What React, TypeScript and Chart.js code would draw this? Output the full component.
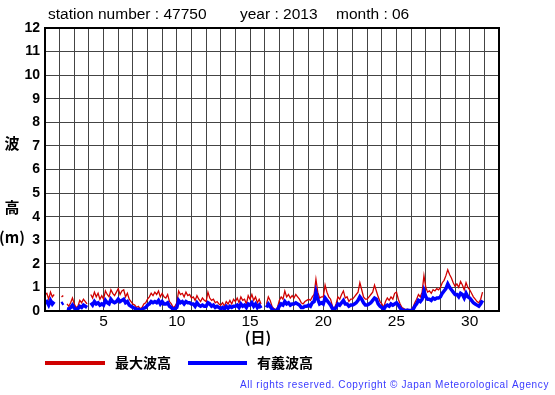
import React, { useEffect, useRef } from "react";
import { Chart, registerables } from "chart.js";

Chart.register(...registerables);

// 3-hourly readings, 8 per day, June 1-30 (null = missing)
const maxWave: (number | null)[] = [
  0.7, 0.75, 0.5, 0.8, 0.6, 0.7, null, null,
  null, 0.6, 0.65, null, 0.3, 0.2, 0.35, 0.55,
  0.3, 0.15, 0.2, 0.45, 0.35, 0.5, 0.4, 0.3,
  null, 0.7, 0.55, 0.8, 0.6, 0.75, 0.5, 0.65,
  0.5, 0.85, 0.7, 0.6, 0.9, 0.75, 0.65, 0.8,
  0.95, 0.7, 0.85, 0.9, 0.6, 0.75, 0.5, 0.4,
  0.3, 0.25, 0.15, 0.2, 0.1, 0.15, 0.3, 0.35,
  0.5, 0.6, 0.75, 0.65, 0.8, 0.7, 0.85, 0.6,
  0.75, 0.6, 0.55, 0.7, 0.4, 0.3, 0.15, 0.2,
  0.35, 0.85, 0.7, 0.75, 0.6, 0.8, 0.65, 0.7,
  0.55, 0.6, 0.45, 0.65, 0.5, 0.4, 0.55, 0.45,
  0.4, 0.8, 0.55, 0.45, 0.5, 0.35, 0.4, 0.3,
  0.25, 0.35, 0.2, 0.4, 0.3, 0.45, 0.3, 0.5,
  0.4, 0.55, 0.35, 0.6, 0.45, 0.5, 0.3, 0.65,
  0.5, 0.7, 0.45, 0.6, 0.35, 0.5, 0.3, null,
  null, 0.3, 0.6, 0.45, 0.2, 0.1, 0.05, 0.15,
  0.45, 0.6, 0.5, 0.85, 0.6, 0.7, 0.55, 0.65,
  0.55, 0.7, 0.6, 0.5, 0.35, 0.3, 0.4, 0.45,
  0.5, 0.45, 0.6, 0.7, 1.35, 0.8, 0.55, 0.6,
  0.6, 1.1, 0.8, 0.6, 0.5, 0.2, 0.1, 0.3,
  0.6, 0.5, 0.7, 0.85, 0.55, 0.6, 0.4, 0.5,
  0.5, 0.6, 0.7, 0.8, 1.2, 0.9, 0.6, 0.5,
  0.5, 0.6, 0.7, 0.8, 1.1, 0.85, 0.6, 0.4,
  0.3, 0.15, 0.4, 0.55, 0.45, 0.6, 0.5, 0.75,
  0.8, 0.5, 0.3, 0.15, 0.1, 0.05, 0.08, 0.05,
  0.05, 0.15, 0.35, 0.5, 0.7, 0.6, 0.8, 1.5,
  1.0, 0.8, 0.85, 0.75, 0.9, 0.85, 0.95, 0.9,
  1.0, 1.2, 1.3, 1.5, 1.75, 1.55, 1.4, 1.2,
  1.05, 1.15, 1.0, 1.25, 1.1, 0.9, 1.2, 1.0,
  0.9, 0.75, 0.6, 0.5, 0.4, 0.35, 0.5, 0.8,
];

const sigWave: (number | null)[] = [
  0.35, 0.4, 0.25, 0.45, 0.3, 0.4, null, null,
  null, 0.3, 0.35, null, 0.1, 0.08, 0.15, 0.25,
  0.12, 0.05, 0.1, 0.2, 0.15, 0.25, 0.2, 0.15,
  null, 0.35, 0.25, 0.4, 0.3, 0.35, 0.25, 0.3,
  0.25, 0.45, 0.35, 0.3, 0.5, 0.4, 0.35, 0.4,
  0.5, 0.4, 0.45, 0.5, 0.35, 0.4, 0.25, 0.2,
  0.15, 0.12, 0.06, 0.08, 0.03, 0.06, 0.12, 0.15,
  0.25, 0.3, 0.4, 0.35, 0.4, 0.35, 0.45, 0.3,
  0.4, 0.3, 0.3, 0.35, 0.2, 0.15, 0.06, 0.1,
  0.15, 0.45, 0.35, 0.4, 0.3, 0.4, 0.35, 0.35,
  0.3, 0.3, 0.2, 0.35, 0.25, 0.2, 0.25, 0.2,
  0.2, 0.35, 0.3, 0.2, 0.25, 0.15, 0.2, 0.15,
  0.1, 0.15, 0.08, 0.2, 0.12, 0.2, 0.15, 0.2,
  0.2, 0.25, 0.15, 0.3, 0.2, 0.25, 0.15, 0.3,
  0.25, 0.35, 0.2, 0.3, 0.15, 0.25, 0.12, null,
  null, 0.15, 0.3, 0.2, 0.08, 0.03, 0.02, 0.05,
  0.2, 0.3, 0.25, 0.4, 0.3, 0.35, 0.25, 0.3,
  0.3, 0.35, 0.3, 0.25, 0.15, 0.15, 0.2, 0.2,
  0.25, 0.2, 0.35, 0.4, 0.8, 0.5, 0.3, 0.35,
  0.3, 0.55, 0.45, 0.35, 0.25, 0.1, 0.04, 0.15,
  0.3, 0.25, 0.35, 0.45, 0.3, 0.3, 0.2, 0.25,
  0.25, 0.3, 0.35, 0.45, 0.6, 0.5, 0.35, 0.25,
  0.25, 0.3, 0.35, 0.45, 0.55, 0.5, 0.3, 0.2,
  0.15, 0.06, 0.2, 0.25, 0.2, 0.3, 0.25, 0.3,
  0.35, 0.25, 0.12, 0.05, 0.03, 0.02, 0.03, 0.02,
  0.02, 0.06, 0.2, 0.3, 0.45, 0.4, 0.5, 0.85,
  0.6, 0.5, 0.5, 0.45, 0.55, 0.5, 0.55, 0.55,
  0.6, 0.75, 0.85, 0.95, 1.15, 1.0, 0.9, 0.8,
  0.7, 0.7, 0.6, 0.75, 0.7, 0.55, 0.75, 0.6,
  0.55, 0.45, 0.35, 0.3, 0.25, 0.2, 0.3, 0.45,
];

const readingsPerDay = 8;
const firstDay = 1;
const xMin = 1;
const xMax = 32;
const yMax = 12;
const titleParts = ["station number : 47750", "year : 2013", "month : 06"];
const legendLabels = ["最大波高", "有義波高"];
const yTitleChars = ["波", "高", "(m)"];
const xTitle = "(日)";
const copyright = "All rights reserved. Copyright © Japan Meteorological Agency";

const toPoints = (arr: (number | null)[]) =>
  arr.map((v, i) => ({ x: firstDay + i / readingsPerDay, y: v }));

const LATIN = '"Liberation Sans", Arial, sans-serif';
const CJK = '"Noto Sans CJK JP", sans-serif';

const decor = {
  id: "decor",
  afterDraw(chart: any) {
    const ctx = chart.ctx;
    const a = chart.chartArea;
    ctx.save();
    // frame
    ctx.strokeStyle = "#000";
    ctx.lineWidth = 2;
    ctx.strokeRect(a.left, a.top, a.right - a.left, a.bottom - a.top);

    ctx.fillStyle = "#000";
    ctx.textBaseline = "middle";
    ctx.textAlign = "left";
    ctx.font = `15.5px ${LATIN}`;
    ctx.fillText(titleParts[0], 48, 15);
    ctx.fillText(titleParts[1], 240, 15);
    ctx.fillText(titleParts[2], 336, 15);

    ctx.textAlign = "center";
    ctx.font = `bold 15px ${CJK}`;
    ctx.fillText(yTitleChars[0], 12, 143);
    ctx.fillText(yTitleChars[1], 12, 207);
    ctx.fillText(yTitleChars[2], 12, 237);
    ctx.fillText(xTitle, 258, 337);

    // legend
    ctx.lineWidth = 4;
    ctx.strokeStyle = "#d00000";
    ctx.beginPath();
    ctx.moveTo(45, 363);
    ctx.lineTo(105, 363);
    ctx.stroke();
    ctx.strokeStyle = "#0000ff";
    ctx.beginPath();
    ctx.moveTo(188, 363);
    ctx.lineTo(247, 363);
    ctx.stroke();
    ctx.textAlign = "left";
    ctx.font = `bold 14px ${CJK}`;
    ctx.fillText(legendLabels[0], 115, 363);
    ctx.fillText(legendLabels[1], 257, 363);

    // copyright
    ctx.font = `10px ${LATIN}`;
    ctx.fillStyle = "#3a3aff";
    const natural = ctx.measureText(copyright).width;
    const target = 309;
    const ls = (target - natural) / copyright.length;
    (ctx as any).letterSpacing = `${ls}px`;
    ctx.fillText(copyright, 240, 385);
    ctx.restore();
  },
};

export default function App() {
  const ref = useRef<HTMLCanvasElement>(null);
  useEffect(() => {
    document.body.style.margin = "0";
    const chart = new Chart(ref.current!, {
      type: "line",
      data: {
        datasets: [
          {
            label: legendLabels[1],
            data: toPoints(sigWave),
            borderColor: "#0000ff",
            borderWidth: 3.5,
            pointRadius: 0,
            spanGaps: false,
            tension: 0,
          },
          {
            label: legendLabels[0],
            data: toPoints(maxWave),
            borderColor: "#d00000",
            borderWidth: 1.3,
            pointRadius: 0,
            spanGaps: false,
            tension: 0,
          },
        ],
      },
      options: {
        animation: false,
        responsive: false,
        devicePixelRatio: 1,
        layout: { padding: { top: 28, right: 56, left: 0, bottom: 0 } },
        plugins: { legend: { display: false }, tooltip: { enabled: false } },
        scales: {
          x: {
            type: "linear",
            min: xMin,
            max: xMax,
            afterFit: (s: any) => {
              s.height = 84;
            },
            afterBuildTicks: (s: any) => {
              const t = [];
              for (let v = xMin; v <= xMax; v++) t.push({ value: v });
              s.ticks = t;
            },
            ticks: {
              autoSkip: false,
              maxRotation: 0,
              padding: 1,
              color: "#000",
              font: { family: LATIN, size: 15.5 },
              callback: (v: any) => (v % 5 === 0 && v < xMax ? String(v) : ""),
            },
            grid: { color: "#444", lineWidth: 1, drawTicks: false },
            border: { color: "#000", width: 2 },
          },
          y: {
            min: 0,
            max: yMax,
            afterFit: (s: any) => {
              s.width = 45;
            },
            ticks: {
              stepSize: 1,
              padding: 5,
              color: "#000",
              font: { family: LATIN, size: 14, weight: "bold" },
            },
            grid: { color: "#444", lineWidth: 1, drawTicks: false },
            border: { color: "#000", width: 2 },
          },
        },
      },
      plugins: [decor],
    });
    return () => chart.destroy();
  }, []);
  return (
    <div style={{ position: "absolute", left: 0, top: 0, width: 555, height: 395, background: "#fff" }}>
      <canvas ref={ref} width={555} height={395} style={{ width: 555, height: 395 }} />
    </div>
  );
}
